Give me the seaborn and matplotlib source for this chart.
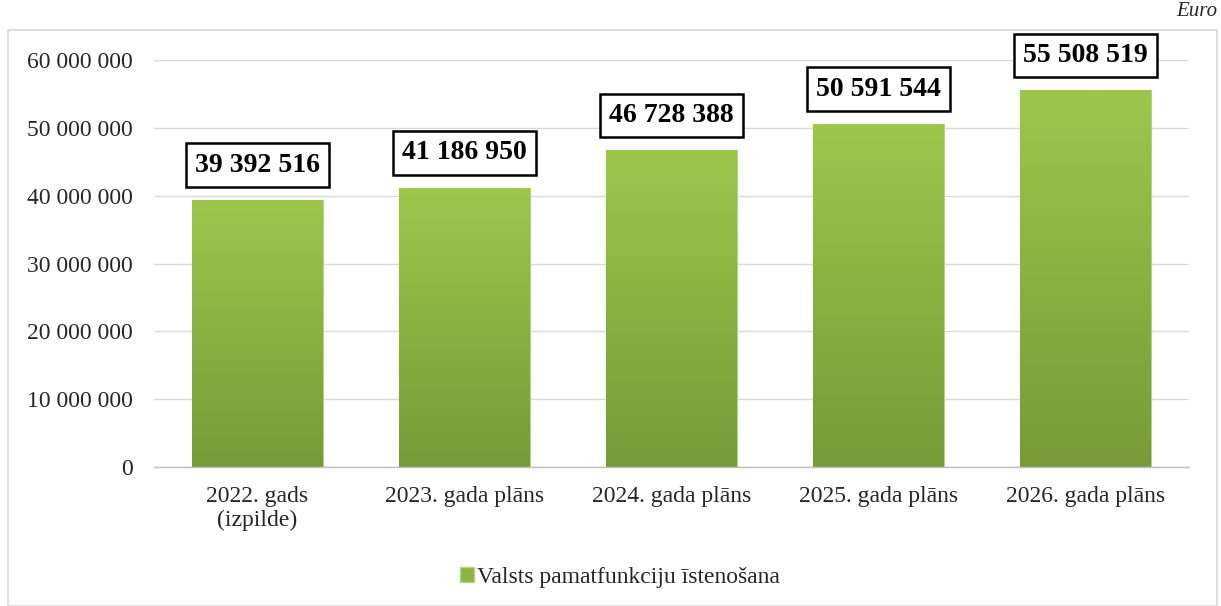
import matplotlib
matplotlib.use('Agg')
import matplotlib.pyplot as plt
import numpy as np
import pandas as pd
import seaborn as sns
from matplotlib.colors import LinearSegmentedColormap
from matplotlib.patches import Rectangle

categories = ['2022. gads\n(izpilde)', '2023. gada plāns', '2024. gada plāns',
              '2025. gada plāns', '2026. gada plāns']
values = [39392516, 41186950, 46728388, 50591544, 55508519]
series_name = 'Valsts pamatfunkciju īstenošana'
y_ticks = [0, 10000000, 20000000, 30000000, 40000000, 50000000, 60000000]

sns.set_theme(style='white')
plt.rcParams['font.family'] = ['Liberation Serif', 'DejaVu Serif']

df = pd.DataFrame({'category': categories, 'value': values})

fig = plt.figure(figsize=(12.21, 6.06), dpi=100)
ax = fig.add_axes([154 / 1221, 1 - 467 / 606, 1035 / 1221, 407 / 606])

sns.barplot(data=df, x='category', y='value', color='#8db443', width=0.63,
            saturation=1, ax=ax, zorder=2)

# vertical gradient inside each bar
grad_cmap = LinearSegmentedColormap.from_list('g', ['#779a38', '#9cc74b'])
grad = np.linspace(0, 1, 256).reshape(-1, 1)
for p in ax.patches:
    x0, y0 = p.get_x(), p.get_y()
    w, h = p.get_width(), p.get_height()
    p.set_edgecolor('#b5d382')
    p.set_linewidth(0.8)
    im = ax.imshow(grad, cmap=grad_cmap, aspect='auto', origin='lower',
                   extent=(x0, x0 + w, y0, y0 + h), zorder=2.5)
    im.set_clip_path(p)

ax.set_ylim(0, 60000000)
ax.set_xlim(-0.5, len(categories) - 0.5)
ax.set_yticks(y_ticks)
ax.set_yticklabels([f'{v:,}'.replace(',', ' ') for v in y_ticks])
ax.tick_params(axis='y', labelsize=17, length=0, pad=15)
ax.tick_params(axis='x', labelsize=17, length=0, pad=14)
for lbl in ax.get_xticklabels():
    lbl.set_linespacing(1.15)
ax.set_xlabel('')
ax.set_ylabel('')
ax.yaxis.grid(True, color='#d9d9d9', linewidth=1)
ax.set_axisbelow(True)
for s in ['top', 'right', 'left']:
    ax.spines[s].set_visible(False)
ax.spines['bottom'].set_color('#bfbfbf')
ax.spines['bottom'].set_linewidth(1)
ax.spines['bottom'].set_zorder(3)

for i, v in enumerate(values):
    ax.annotate(f'{v:,}'.replace(',', ' '), xy=(i, v), xytext=(0, 16),
                textcoords='offset points', ha='center', va='bottom',
                fontsize=20, fontweight='bold', color='black',
                bbox=dict(boxstyle='square,pad=0.33', fc='white', ec='black', lw=1.8),
                annotation_clip=False, zorder=5)

# legend
handle = Rectangle((0, 0), 1, 1, facecolor='#8db443', edgecolor='#b5d382')
fig.legend([handle], [series_name], loc='center', bbox_to_anchor=(620 / 1221, 1 - 577 / 606),
           frameon=False, fontsize=17, handlelength=0.6, handleheight=0.6,
           handletextpad=0.15)

# outer chart frame and unit label
fig.patches.append(Rectangle((8 / 1221, 0), 1209 / 1221, 1 - 30 / 606,
                             transform=fig.transFigure, fill=False,
                             edgecolor='#d9d9d9', linewidth=1.2, zorder=0))
fig.text(1217 / 1221, 1 - 12 / 606, 'Euro', ha='right', va='center',
         fontsize=15, style='italic')

fig.savefig('out.png', dpi=100)
